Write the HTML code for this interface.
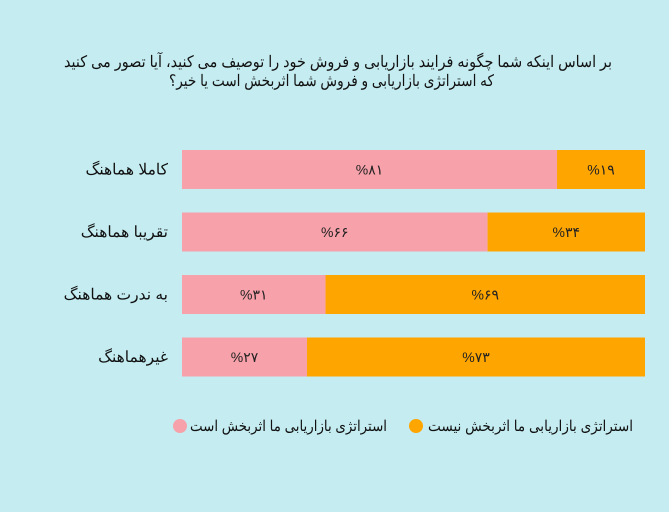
<!DOCTYPE html>
<html><head><meta charset="utf-8">
<style>
body{margin:0;background:#c4ecf1;}
svg{display:block;font-family:"Liberation Sans","Noto Sans CJK SC",sans-serif;}
</style></head>
<body>
<svg width="669" height="512">
<rect x="0" y="0" width="669" height="512" fill="#c4ecf1"/>
<text x="64" y="67" textLength="548" lengthAdjust="spacingAndGlyphs" font-size="16" fill="#111">بر اساس اینکه شما چگونه فرایند بازاریابی و فروش خود را توصیف می کنید، آیا تصور می کنید</text>
<text x="169" y="86" textLength="325" lengthAdjust="spacingAndGlyphs" font-size="16" fill="#111">که استراتژی بازاریابی و فروش شما اثربخش است یا خیر؟</text>
<g id="bars"></g>
<g>
<circle cx="416" cy="426" r="7" fill="#ffa500"/>
<text x="428" y="431" textLength="205" lengthAdjust="spacingAndGlyphs" font-size="15" fill="#111">استراتژی بازاریابی ما اثربخش نیست</text>
<circle cx="180" cy="426" r="7" fill="#f7a1aa"/>
<text x="190" y="431" textLength="197" lengthAdjust="spacingAndGlyphs" font-size="15" fill="#111">استراتژی بازاریابی ما اثربخش است</text>
</g>
</svg>
<script>
const categories=["کاملا هماهنگ","تقریبا هماهنگ","به ندرت هماهنگ","غیرهماهنگ"];
const effective=[81,66,31,27];
const notEffective=[19,34,69,73];
const labelsEff=["%۸۱","%۶۶","%۳۱","%۲۷"];
const labelsNot=["%۱۹","%۳۴","%۶۹","%۷۳"];
const NS="http://www.w3.org/2000/svg";
const g=document.getElementById("bars");
const x0=182,x1=645,top0=150,step=62.5,bh=39;
const xs=v=>x0+(x1-x0)*v/100;
const ys=i=>top0+i*step;
function mk(tag,attrs){const e=document.createElementNS(NS,tag);for(const k in attrs)e.setAttribute(k,attrs[k]);g.appendChild(e);return e;}
categories.forEach((c,i)=>{
  const y=ys(i);
  const tot=effective[i]+notEffective[i];
  const pe=effective[i]/tot*100;
  const r1=mk("rect",{x:xs(0),y:y,width:xs(pe)-xs(0),height:bh,fill:"#f7a1aa"});
  
  
  const r2=mk("rect",{x:xs(pe),y:y,width:xs(100)-xs(pe),height:bh,fill:"#ffa500"});
  
  
  const t1=mk("text",{x:(xs(0)+xs(pe))/2,y:y+bh/2+5,"text-anchor":"middle","font-size":"14",fill:"#222"});
  t1.textContent=labelsEff[i];
  
  
  const t2=mk("text",{x:(xs(pe)+xs(100))/2,y:y+bh/2+5,"text-anchor":"middle","font-size":"14",fill:"#222"});
  t2.textContent=labelsNot[i];
  
  
  const cl=mk("text",{x:168,y:y+bh/2+5,"text-anchor":"end","font-size":"15.5",fill:"#111"});
  cl.textContent=c;
  
  
});
</script>
</body></html>
